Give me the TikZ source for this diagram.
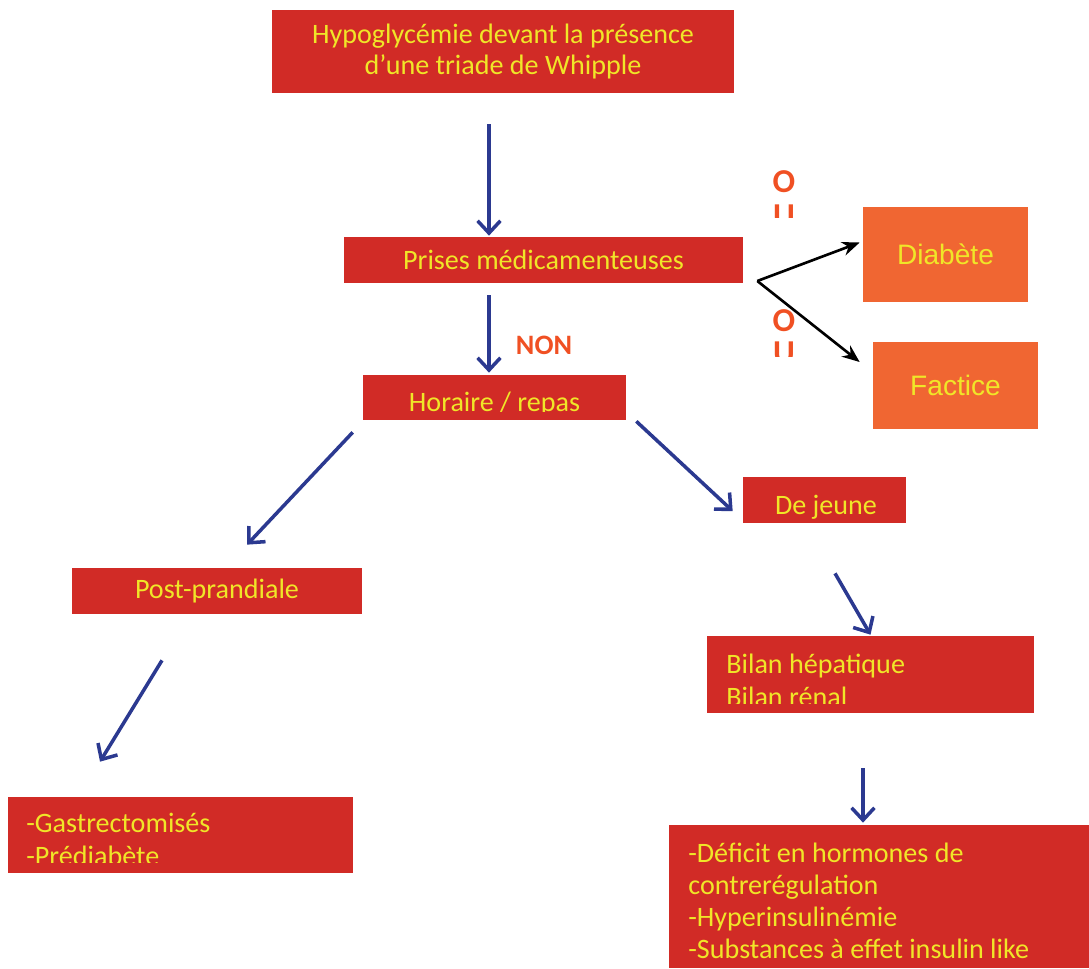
\documentclass[tikz,border=0pt]{standalone}
\usepackage{fontspec}
\newfontfamily\carlito{Carlito}
\newfontfamily\arialfont{Liberation Sans}
\usetikzlibrary{arrows.meta}
\definecolor{rouge}{RGB}{209,43,38}
\definecolor{orangebox}{RGB}{240,102,50}
\definecolor{jaune}{RGB}{240,230,40}
\definecolor{marine}{RGB}{43,57,144}
\definecolor{vermillon}{RGB}{240,80,35}

\begin{document}
\begin{tikzpicture}[x=0.02cm, y=-0.02cm,
		boite/.style={fill=rouge, inner sep=0pt},
		boiteor/.style={fill=orangebox, inner sep=0pt, text=jaune, text height=11.5pt, text depth=0pt, font=\arialfont\fontsize{16}{18}\selectfont},
		texte/.style={text=jaune, inner sep=0pt, font=\carlito\fontsize{16}{18}\selectfont},
		fleche/.style={draw=marine, line width=2pt, -{Straight Barb[length=7pt,width=13pt]}},
		flechenoire/.style={draw=black, line width=1.5pt, -{Stealth[length=10pt,width=8pt]}},
		oui/.style={text=vermillon, inner sep=0pt, font=\carlito\bfseries\fontsize{19}{20}\selectfont}]
			%%%%% START %%%%%
			\useasboundingbox (0,0) rectangle (1089,968);
			
			% les boites
			\node[boite, texte, align=center, minimum width=9.24cm, minimum height=1.66cm] (titre) at (503,51.5) {Hypoglycémie devant la présence\\d’une triade de Whipple};
			\node[boite, texte, minimum width=7.98cm, minimum height=0.92cm] (prises) at (543.5,260) {Prises médicamenteuses};
			\node[boite, minimum width=5.26cm, minimum height=0.9cm] (horaire) at (494.5,397.5) {};
			\node[boite, minimum width=3.26cm, minimum height=0.92cm] (jeune) at (824.5,500) {};
			\node[boite, texte, minimum width=5.8cm, minimum height=0.92cm] (post) at (217,591) {Post-prandiale};
			\node[boite, minimum width=6.54cm, minimum height=1.54cm] (bilan) at (870.5,674.5) {};
			\node[boite, minimum width=6.9cm, minimum height=1.52cm] (gastro) at (180.5,835) {};
			\node[boite, minimum width=8.4cm, minimum height=2.86cm] (bas) at (879,896.5) {};
			\node[boiteor, minimum width=3.3cm, minimum height=1.9cm] (diabete) at (945.5,254.5) {Diabète};
			\node[boiteor, minimum width=3.3cm, minimum height=1.74cm] (factice) at (955.5,385) {Factice};
			
			% textes coupes en bas
			\begin{scope}
				\clip (horaire.north west) rectangle ([yshift=0.18cm]horaire.south east);
				\node[texte, anchor=base] (t-horaire) at (494.5,411) {Horaire / repas};
			\end{scope}
			\begin{scope}
				\clip (jeune.north west) rectangle ([yshift=0.1cm]jeune.south east);
				\node[texte, anchor=base] (t-jeune) at (826,514) {De jeune};
			\end{scope}
			\begin{scope}
				\clip (bilan.north west) rectangle ([yshift=0.2cm]bilan.south east);
				\node[texte, anchor=base west] (t-bilan1) at (726,673) {Bilan hépatique};
				\node[texte, anchor=base west] (t-bilan2) at (726,706) {Bilan rénal};
			\end{scope}
			\begin{scope}
				\clip (gastro.north west) rectangle ([yshift=0.22cm]gastro.south east);
				\node[texte, anchor=base west] (t-gastro1) at (26,832) {-Gastrectomisés};
				\node[texte, anchor=base west] (t-gastro2) at (26,865) {-Prédiabète};
			\end{scope}
			\node[texte, anchor=base west] (t-bas1) at (688,862) {-Déficit en hormones de};
			\node[texte, anchor=base west] (t-bas2) at (688,894) {contrerégulation};
			\node[texte, anchor=base west] (t-bas3) at (688,926) {-Hyperinsulinémie};
			\node[texte, anchor=base west] (t-bas4) at (688,958) {-Substances à effet insulin like};
			
			% OUI / NON
			\node[oui, font=\carlito\bfseries\fontsize{16}{18}\selectfont] (non) at (544,345) {NON};
			\node[oui] (oui1) at (784,182) {O};
			\node[oui] (oui2) at (784,321) {O};
			\begin{scope}
				\clip (770,200) rectangle (800,217);
				\node[oui, anchor=base] (oui1u) at (784,226) {U};
			\end{scope}
			\begin{scope}
				\clip (770,337) rectangle (800,356);
				\node[oui, anchor=base] (oui2u) at (784,363) {U};
			\end{scope}
			
			% fleches
			\draw[fleche] ([shift={(-14,31)}]titre.south) -- ([shift={(-54.5,-1)}]prises.north);
			\draw[fleche] ([shift={(-54.5,12)}]prises.south) -- ([shift={(-5.5,-2)}]horaire.north);
			\draw[fleche] ([shift={(-10,12)}]horaire.south west) -- ([shift={(30,-23)}]post.north);
			\draw[fleche] ([shift={(10,1)}]horaire.south east) -- ([shift={(-10,11)}]jeune.west);
			\draw[fleche] ([shift={(-55,46)}]post.south) -- ([shift={(-80.5,-35)}]gastro.north);
			\draw[fleche] ([shift={(10.5,50)}]jeune.south) -- ([shift={(0,-1)}]bilan.north);
			\draw[fleche] ([shift={(-7.5,55)}]bilan.south) -- ([shift={(-16,-2)}]bas.north);
			
			\coordinate (fourche) at ([shift={(14,21)}]prises.east);
			\draw[flechenoire] (fourche) -- ([shift={(-3,-12)}]diabete.west);
			\draw[flechenoire] (fourche) -- ([shift={(-13,-23)}]factice.west);
			%%%%% END %%%%%
\end{tikzpicture}
\end{document}
